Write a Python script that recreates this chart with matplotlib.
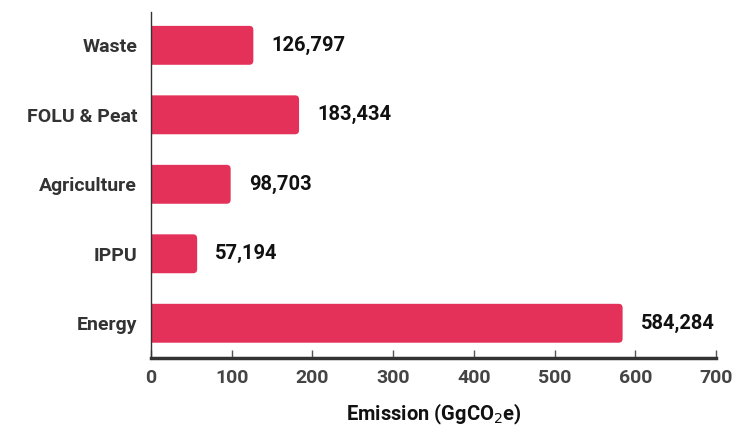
import matplotlib
matplotlib.use("Agg")
import matplotlib.pyplot as plt
from matplotlib.patches import FancyBboxPatch

plt.rcParams['font.family'] = ['Roboto', 'DejaVu Sans']

sectors = ["Energy", "IPPU", "Agriculture", "FOLU & Peat", "Waste"]
emissions = [584284, 57194, 98703, 183434, 126797]
xticks = [0, 100, 200, 300, 400, 500, 600, 700]

bar_color = "#e3315a"

fig = plt.figure(figsize=(7.38, 4.34), dpi=100)
ax = fig.add_axes([0.2046, 0.1751, 0.7656, 0.7973])

ax.set_xlim(0, 700)
ax.set_ylim(-0.5, 4.48)

# bars in thousands, rounded on the right end (left end hidden behind the axis)
h = 0.56
r = 5.0
asp = 0.0116
for i, v in enumerate(emissions):
    val = v / 1000
    p = FancyBboxPatch((-r * 2, i - h / 2), val + r * 2, h,
                       boxstyle=f"round,pad=0,rounding_size={r}",
                       mutation_aspect=asp, facecolor=bar_color,
                       edgecolor="none", zorder=2)
    ax.add_patch(p)
    ax.annotate(f"{v:,}", (val, i), xytext=(13, 0), textcoords="offset points",
                va="center", ha="left", fontsize=14.5, fontweight="bold",
                color="#111111")

ax.set_yticks(range(len(sectors)))
ax.set_yticklabels(sectors, fontsize=14, fontweight="bold", color="#333333")
ax.set_xticks(xticks)
ax.set_xticklabels([str(t) for t in xticks], fontsize=14,
                   fontweight="bold", color="#444444")
ax.tick_params(axis="y", length=0, pad=10)
ax.tick_params(axis="x", direction="in", length=6, width=1,
               color="#555555", pad=8)

for s in ["top", "right"]:
    ax.spines[s].set_visible(False)
ax.spines["left"].set_color("#333333")
ax.spines["left"].set_linewidth(1)
ax.spines["bottom"].set_color("#333333")
ax.spines["bottom"].set_linewidth(2.5)

ax.set_xlabel("Emission (GgCO$_2$e)", fontsize=14.5, fontweight="bold",
              color="#111111", labelpad=11)

fig.savefig("out.png", dpi=100)
